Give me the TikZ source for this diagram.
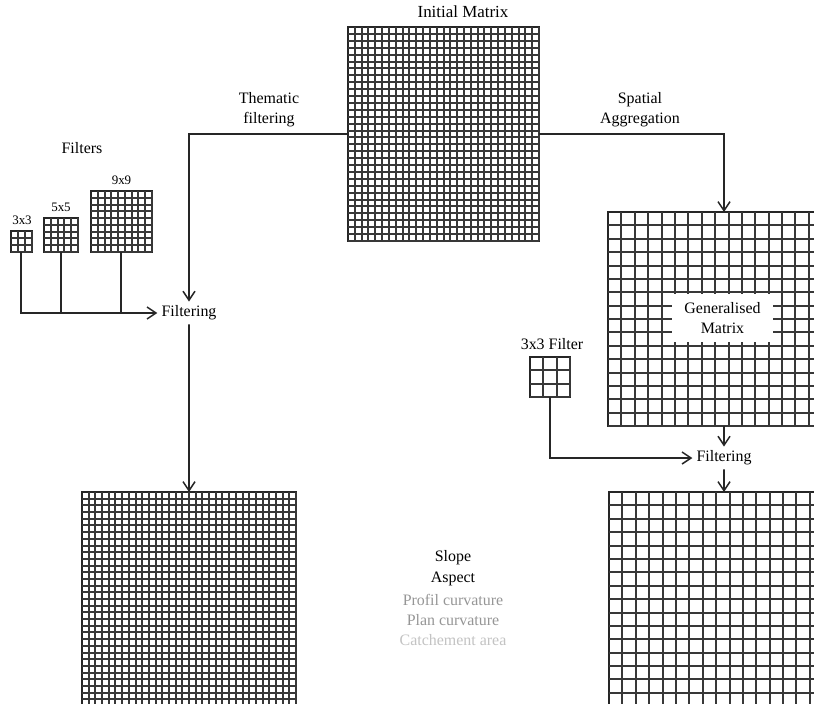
\documentclass[tikz,border=0pt]{standalone}
\usepackage{fontspec}
\setmainfont{Liberation Serif}
\usetikzlibrary{arrows.meta,calc}
\definecolor{midgray}{RGB}{150,150,150}
\definecolor{lightgray}{RGB}{195,195,195}
% node, cols, rows, grid width, grid height
\newcommand\mgrid[5]{%
  \foreach \i in {1,...,#2} \draw[gridline] ($(#1.north west)+({round(\i*#4/#2)},0)$) -- ++(0,#5);
  \foreach \j in {1,...,#3} \draw[gridline] ($(#1.north west)+(0,{round(\j*#5/#3)})$) -- ++(#4,0);
}
\tikzset{
  txt/.style={font=\fontsize{16}{20}\selectfont, inner sep=0pt},
  smalltxt/.style={font=\fontsize{13}{15}\selectfont, inner sep=0pt},
  flt/.style={font=\fontsize{16}{20}\selectfont, inner sep=4pt},
  gridline/.style={draw=black!78, line width=2bp},
  matbox/.style={draw=black!85, line width=2bp, inner sep=0pt, outer sep=0pt, rectangle, anchor=north west},
  conn/.style={draw=black!85, line width=1.7bp},
  arr/.style={conn, -{Straight Barb[length=9bp,width=12bp,line width=1.5bp]}},
}
\begin{document}
\begin{tikzpicture}[x=1bp,y=-1bp]
\clip (0,0) rectangle (814,704);
\fill[white] (0,0) rectangle (814,704);

% matrices
\node[matbox, minimum width=191bp, minimum height=214bp] (im) at (348,27) {};
\mgrid{im}{28}{31}{191}{214}
\node[matbox, minimum width=214bp, minimum height=214bp] (bl) at (82,492) {};
\mgrid{bl}{32}{32}{214}{214}
\node[matbox, minimum width=232bp, minimum height=214bp] (gm) at (608,212) {};
\mgrid{gm}{18}{16}{241}{214}
\node[matbox, minimum width=230bp, minimum height=230bp] (br) at (609,492) {};
\mgrid{br}{18}{18}{241}{241}

% filters
\node[matbox, minimum width=21bp, minimum height=21bp] (f3) at (11,231) {};
\mgrid{f3}{3}{3}{21}{21}
\node[matbox, minimum width=34bp, minimum height=34bp] (f5) at (44,218) {};
\mgrid{f5}{5}{5}{34}{34}
\node[matbox, minimum width=61bp, minimum height=61bp] (f9) at (91,191) {};
\mgrid{f9}{9}{9}{61}{61}
\node[matbox, minimum width=40bp, minimum height=40bp] (f3r) at (530,357) {};
\mgrid{f3r}{3}{3}{40}{40}

% white label box in generalised matrix
\node[txt, fill=white, minimum width=101bp, minimum height=48bp, align=center] (gml) at (722.5,318) {Generalised\\Matrix};

% labels
\node[font=\fontsize{17}{20}\selectfont, inner sep=0pt] (iml) at (463,12) {Initial Matrix};
\node[txt, align=center] (thl) at (269,110) {Thematic\\filtering};
\node[txt, align=center] (spl) at (640,110) {Spatial\\Aggregation};
\node[txt] (fll) at (82,148) {Filters};
\node[smalltxt] (l3) at (22,220) {3x3};
\node[smalltxt] (l5) at (61,207) {5x5};
\node[smalltxt] (l9) at (121.5,180) {9x9};
\node[txt] (l3r) at (552,344) {3x3 Filter};

% filtering nodes
\node[flt] (filt1) at (189,313) {Filtering};
\node[flt] (filt2) at (724,458) {Filtering};

% connectors
\draw[arr] (im.west) -| (filt1.north);
\draw[arr] (im.east) -| (gm.north);
\draw[arr] (filt1.south) -- (bl.north);
\draw[arr] ([xshift=-0.5bp]f3.south) |- (filt1.west);
\draw[conn] (f5.south) -- (f5.south |- filt1.west);
\draw[conn] ([xshift=-0.5bp]f9.south) -- ([xshift=-0.5bp]f9.south |- filt1.west);
\draw[arr] (gm.south) -- (filt2.north);
\draw[arr] (filt2.south) -- (br.north);
\draw[arr] (f3r.south) |- (filt2.west);

% attribute list
\node[txt] (t1) at (453,558) {Slope};
\node[txt] (t2) at (453,579) {Aspect};
\node[txt, text=midgray] (t3) at (453,599.5) {Profil curvature};
\node[txt, text=midgray] (t4) at (453,620) {Plan curvature};
\node[txt, text=lightgray] (t5) at (453,640) {Catchement area};
\end{tikzpicture}
\end{document}
